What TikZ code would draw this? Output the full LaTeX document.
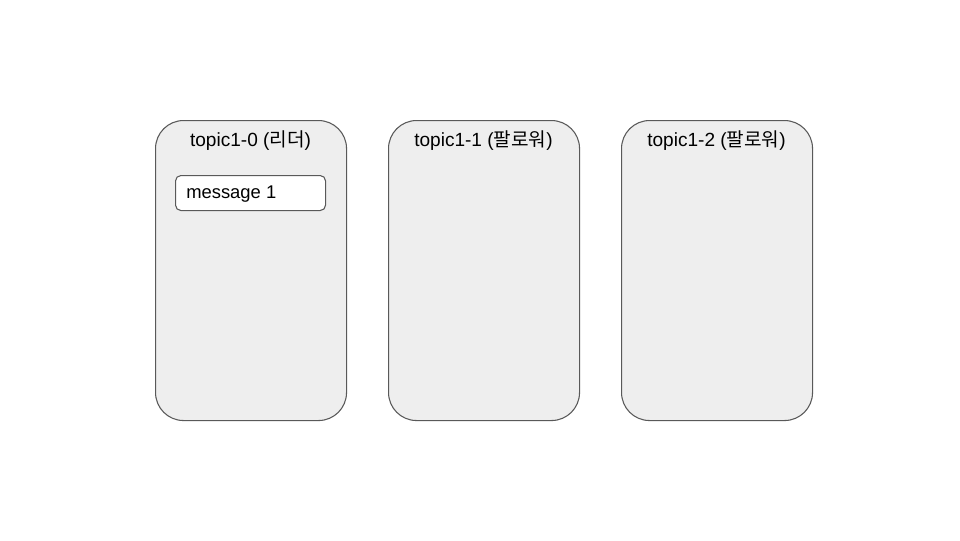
\documentclass[tikz,border=0pt]{standalone}
\usepackage{fontspec}
\setmainfont{Liberation Sans}
\newfontfamily\kr{Noto Sans CJK KR}
\definecolor{boxfill}{HTML}{EEEEEE}
\definecolor{boxline}{HTML}{595959}
\begin{document}
\begin{tikzpicture}[x=0.75pt,y=-0.75pt,
  part/.style={draw=boxline, fill=boxfill, line width=0.8pt, rounded corners=21pt, minimum width=143.25pt, minimum height=225pt, anchor=north west, inner sep=0pt},
  title/.style={font=\fontsize{14.3}{17}\selectfont, anchor=center, inner sep=0pt},
  msg/.style={draw=boxline, fill=white, line width=0.8pt, rounded corners=4pt, minimum width=112.5pt, minimum height=26.25pt, anchor=north west, inner sep=0pt},
  msgtext/.style={font=\fontsize{13.8}{16}\selectfont, anchor=west, inner sep=0pt}]
\useasboundingbox (0,0) rectangle (960,540);
\node[part] (p0) at (155,120) {};
\node[part] (p1) at (388,120) {};
\node[part] (p2) at (621,120) {};
\node[title] (t0) at (250.5,140.5) {topic1-0 ({\kr 리더})};
\node[title] (t1) at (483.5,140.5) {topic1-1 ({\kr 팔로워})};
\node[title] (t2) at (716.5,140.5) {topic1-2 ({\kr 팔로워})};
\node[msg] (m1) at (175,175) {};
\node[msgtext] (m1t) at (186,194.5) {message 1};
\end{tikzpicture}
\end{document}
